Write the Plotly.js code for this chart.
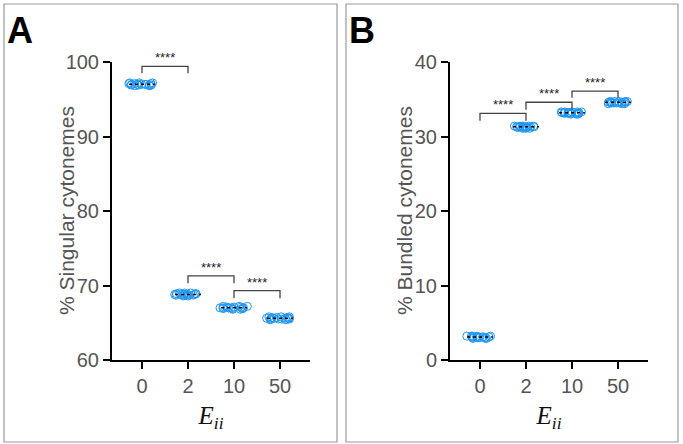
<!DOCTYPE html>
<html>
<head>
<meta charset="utf-8">
<script src="https://cdn.plot.ly/plotly-3.0.1.min.js"></script>
<style>body{margin:0;background:#fff;}</style>
</head>
<body>
<div id="plot1" style="width:683px;height:444px;"></div>
<script>
// categories on the x axis (E_ii)
let eii = ['0', '2', '10', '50'];

// replicate values for each category, panel A (% singular cytonemes)
let singular0 = [97.2, 96.9, 97.0, 97.1, 96.8, 97.0, 97.1, 96.9, 97.0, 97.2, 96.9, 97.0, 96.8, 97.1, 97.0, 96.9, 97.2, 97.0];
let singular2 = [69.0, 68.7, 68.8, 68.9, 68.6, 68.8, 68.9, 68.7, 68.8, 69.0, 68.7, 68.8, 68.6, 68.9, 68.8, 68.7, 69.0, 68.8];
let singular10 = [67.2, 66.9, 67.0, 67.1, 66.8, 67.0, 67.1, 66.9, 67.0, 67.2, 66.9, 67.0, 66.8, 67.1, 67.0, 66.9, 67.2, 67.0];
let singular50 = [65.8, 65.5, 65.6, 65.7, 65.4, 65.6, 65.7, 65.5, 65.6, 65.8, 65.5, 65.6, 65.4, 65.7, 65.6, 65.5, 65.8, 65.6];

// replicate values for each category, panel B (% bundled cytonemes)
let bundled0 = [3.0, 3.2, 3.1, 2.9, 3.2, 3.1, 3.0, 3.2, 3.1, 2.9, 3.1, 3.2, 3.0, 2.9, 3.1, 3.2, 3.0, 3.1];
let bundled2 = [31.2, 31.4, 31.3, 31.1, 31.4, 31.3, 31.2, 31.4, 31.3, 31.1, 31.3, 31.4, 31.2, 31.1, 31.3, 31.4, 31.2, 31.3];
let bundled10 = [33.1, 33.3, 33.2, 33.0, 33.3, 33.2, 33.1, 33.3, 33.2, 33.0, 33.2, 33.3, 33.1, 33.0, 33.2, 33.3, 33.1, 33.2];
let bundled50 = [34.5, 34.7, 34.6, 34.4, 34.7, 34.6, 34.5, 34.7, 34.6, 34.4, 34.6, 34.7, 34.5, 34.4, 34.6, 34.7, 34.5, 34.6];

// significance brackets: [from index, to index, leg bottom, bracket top]
let bracketsA = [[0, 1, 98.5, 99.4], [1, 2, 70.3, 71.3], [2, 3, 68.3, 69.3]];
let bracketsB = [[0, 1, 32.1, 33.1], [1, 2, 33.6, 34.6], [2, 3, 35.2, 36.1]];
let starText = '****';

let blue = '#2196F3';
let grey = '#555555';

// flatten groups into x / y arrays for a jittered point trace
function points(groups) {
    let xs = [], ys = [];
    groups.forEach(function (g, i) {
        g.forEach(function (v) { xs.push(eii[i]); ys.push(v); });
    });
    return {x: xs, y: ys};
}

function median(arr) {
    let s = arr.slice().sort(function (a, b) { return a - b; });
    let m = Math.floor(s.length / 2);
    return s.length % 2 ? s[m] : (s[m - 1] + s[m]) / 2;
}

function dotTrace(groups, xa, ya) {
    let p = points(groups);
    return {
        type: 'box',
        x: p.x, y: p.y,
        xaxis: xa, yaxis: ya,
        boxpoints: 'all', jitter: 1, pointpos: 0, width: 0.62,
        fillcolor: 'rgba(0,0,0,0)',
        line: {width: 0, color: 'rgba(0,0,0,0)'},
        marker: {symbol: 'circle-open', size: 8, color: blue, line: {width: 1}},
        hoverinfo: 'skip', showlegend: false
    };
}

let groupsA = [singular0, singular2, singular10, singular50];
let groupsB = [bundled0, bundled2, bundled10, bundled50];

let data = [dotTrace(groupsA, 'x', 'y'), dotTrace(groupsB, 'x2', 'y2')];

let shapes = [];
let annotations = [];

// median lines
function addMedians(groups, xr, yr) {
    groups.forEach(function (g, i) {
        let m = median(g);
        shapes.push({type: 'line', xref: xr, yref: yr, x0: i - 0.28, x1: i + 0.28, y0: m, y1: m,
            line: {color: '#000', width: 1.5, dash: 'dot'}});
    });
}
addMedians(groupsA, 'x', 'y');
addMedians(groupsB, 'x2', 'y2');

// brackets with stars
function addBrackets(list, xr, yr) {
    list.forEach(function (b) {
        shapes.push({type: 'path', xref: xr, yref: yr,
            path: 'M' + b[0] + ',' + b[2] + ' L' + b[0] + ',' + b[3] + ' L' + b[1] + ',' + b[3] + ' L' + b[1] + ',' + b[2],
            line: {color: '#444', width: 1.3}});
        annotations.push({xref: xr, yref: yr, x: (b[0] + b[1]) / 2, y: b[3], yanchor: 'bottom',
            text: starText, showarrow: false, yshift: -1,
            font: {family: 'Liberation Sans, Arial', size: 13, color: '#222'}});
    });
}
addBrackets(bracketsA, 'x', 'y');
addBrackets(bracketsB, 'x2', 'y2');

// panel borders
shapes.push({type: 'rect', xref: 'paper', yref: 'paper', x0: 4 / 683, x1: 337 / 683, y0: 1 - 442 / 444, y1: 1 - 4 / 444,
    line: {color: '#999', width: 1.2}});
shapes.push({type: 'rect', xref: 'paper', yref: 'paper', x0: 346 / 683, x1: 678 / 683, y0: 1 - 442 / 444, y1: 1 - 4 / 444,
    line: {color: '#999', width: 1.2}});

// panel letters
annotations.push({xref: 'paper', yref: 'paper', x: 5 / 683, y: 1 - 8 / 444, xanchor: 'left', yanchor: 'top',
    text: '<b>A</b>', showarrow: false, font: {family: 'Liberation Sans, Arial', size: 36, color: '#000'}});
annotations.push({xref: 'paper', yref: 'paper', x: 347 / 683, y: 1 - 8 / 444, xanchor: 'left', yanchor: 'top',
    text: '<b>B</b>', showarrow: false, font: {family: 'Liberation Sans, Arial', size: 36, color: '#000'}});

let yDom = [1 - 360 / 444, 1 - 62 / 444];

// y axis titles placed close to the ticks, as in the reference
let yTitleFont = {family: 'Liberation Sans, Arial', size: 21, color: grey};
annotations.push({xref: 'paper', yref: 'paper', x: 66 / 683, y: (yDom[0] + yDom[1]) / 2, textangle: -90,
    xanchor: 'center', yanchor: 'middle',
    text: '% Singular cytonemes', showarrow: false, font: yTitleFont});
annotations.push({xref: 'paper', yref: 'paper', x: 404 / 683, y: (yDom[0] + yDom[1]) / 2, textangle: -90,
    xanchor: 'center', yanchor: 'middle',
    text: '% Bundled cytonemes', showarrow: false, font: yTitleFont});

let tickFont = {family: 'Liberation Sans, Arial', size: 20, color: grey};
let xTitle = {text: '<i>E<sub>ii</sub></i>', font: {family: 'Liberation Serif, Times New Roman', size: 25, color: '#111'}, standoff: 10};

function xAxis(domain, range, anchor) {
    return {domain: domain, range: range, anchor: anchor, type: 'category', categoryorder: 'array', categoryarray: eii,
        showline: true, linecolor: '#000', linewidth: 2, ticks: 'outside', ticklen: 7, tickwidth: 2, tickcolor: '#000',
        showgrid: false, zeroline: false, tickfont: tickFont, title: xTitle, fixedrange: true};
}
function yAxis(domain, range, dtick, anchor) {
    return {domain: domain, range: range, anchor: anchor, dtick: dtick, tick0: 0,
        showline: true, linecolor: '#000', linewidth: 2, ticks: 'outside', ticklen: 7, tickwidth: 2, tickcolor: '#000',
        showgrid: false, zeroline: false, tickfont: tickFont, fixedrange: true};
}

let layout = {
    width: 683, height: 444,
    margin: {l: 0, r: 0, t: 0, b: 0},
    paper_bgcolor: '#fff', plot_bgcolor: '#fff',
    showlegend: false,
    xaxis: xAxis([112 / 683, 310 / 683], [-0.652, 3.652], 'y'),
    yaxis: yAxis(yDom, [60, 100], 10, 'x'),
    xaxis2: xAxis([450 / 683, 648 / 683], [-0.652, 3.652], 'y2'),
    yaxis2: yAxis(yDom, [0, 40], 10, 'x2'),
    shapes: shapes,
    annotations: annotations
};

Plotly.newPlot('plot1', data, layout, {displayModeBar: false, staticPlot: true});
</script>
</body>
</html>
